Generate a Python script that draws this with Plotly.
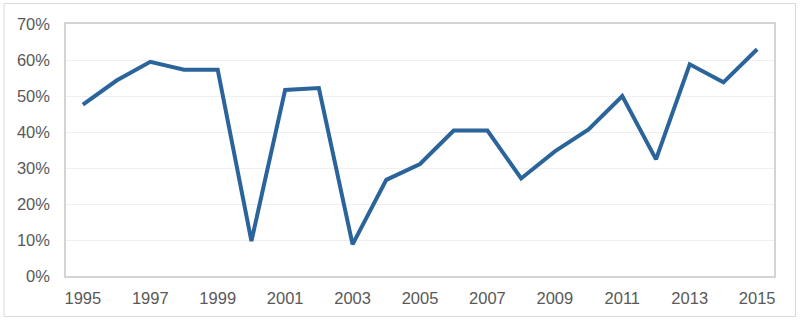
import plotly.graph_objects as go

years = list(range(1995, 2016))
values = [0.476, 0.543, 0.595, 0.573, 0.573, 0.097, 0.517, 0.522, 0.088, 0.267,
          0.311, 0.404, 0.404, 0.271, 0.346, 0.407, 0.500, 0.324, 0.588, 0.538, 0.630]
x_ticks = list(range(1995, 2016, 2))

fig = go.Figure()
fig.add_trace(go.Scatter(
    x=years, y=values, mode="lines",
    line=dict(color="#2A649A", width=4),
    hoverinfo="x+y",
))

W, H = 800, 321
L, R, T, B = 66, 26, 24, 45
pw, ph = W - L - R, H - T - B

def px_to_paper_x(px):
    return (px - L) / pw

def px_to_paper_y(py):
    return (H - B - py) / ph

fig.add_shape(type="rect", xref="paper", yref="paper",
              x0=px_to_paper_x(4), x1=px_to_paper_x(795.5),
              y0=px_to_paper_y(316.5), y1=px_to_paper_y(3.5),
              line=dict(color="#d9d9d9", width=1), layer="below")

font_color = "#595959"
fs = 16.5
fig.update_layout(
    width=W, height=H,
    margin=dict(l=L, r=R, t=T, b=B),
    paper_bgcolor="white", plot_bgcolor="white",
    showlegend=False,
    font=dict(family="Liberation Sans, Arial, sans-serif", size=fs, color=font_color),
    xaxis=dict(
        range=[1994.5, 2015.5], tickmode="array", tickvals=x_ticks,
        ticktext=[str(t) for t in x_ticks],
        showgrid=False, zeroline=False,
        showline=True, mirror=True, linecolor="#d4d4d4", linewidth=1.5,
        ticks="outside", ticklen=6, tickcolor="rgba(0,0,0,0)",
        tickfont=dict(size=fs, color=font_color),
    ),
    yaxis=dict(
        range=[0, 0.7], dtick=0.1, tickformat=".0%",
        showgrid=True, gridcolor="#efefef", gridwidth=1, zeroline=False,
        showline=True, mirror=True, linecolor="#d4d4d4", linewidth=1.5,
        ticks="outside", ticklen=11, tickcolor="rgba(0,0,0,0)",
        tickfont=dict(size=fs, color=font_color),
    ),
)

fig.write_html("out.html")
